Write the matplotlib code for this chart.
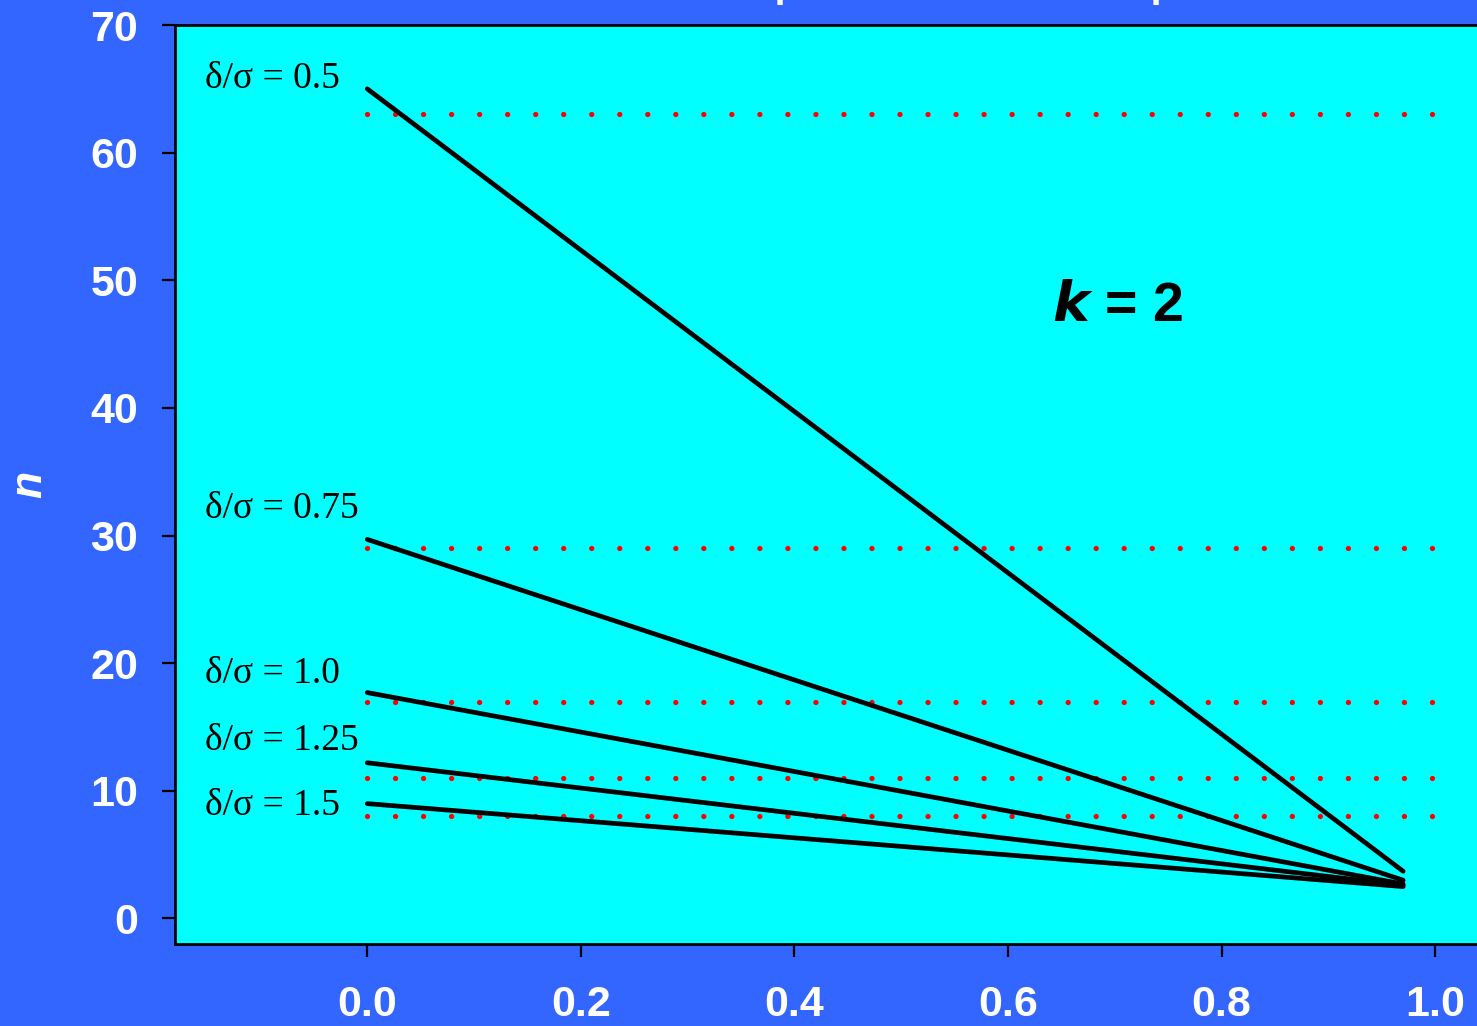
import numpy as np
import matplotlib
matplotlib.use('Agg')
import matplotlib.pyplot as plt

# sample size n against the proportion, for several effect sizes delta/sigma
ratios = ['0.5', '0.75', '1.0', '1.25', '1.5']
x_start = 0.0
x_end = 0.97
n_start = [65.0, 29.7, 17.7, 12.2, 9.0]
n_end = [3.7, 3.0, 2.7, 2.6, 2.5]
# reference levels drawn as red dotted lines
n_ref = [63, 29, 17, 11, 8]
label_y = [65.8, 32.1, 19.2, 13.9, 8.8]

x_ticks = [0.0, 0.2, 0.4, 0.6, 0.8, 1.0]
y_ticks = [0, 10, 20, 30, 40, 50, 60, 70]

fig = plt.figure(figsize=(14.77, 10.26), dpi=100, facecolor='#3366FF')
ax = fig.add_axes([0.1185, 0.0799, 0.9255, 0.8957], facecolor='#00FFFF')

for y in n_ref:
    ax.plot([0.0, 1.0], [y, y], color='red', lw=3.8,
            linestyle=(0, (0.01, 5.3)), dash_capstyle='round', zorder=2)

for a, b in zip(n_start, n_end):
    ax.plot([x_start, x_end], [a, b], color='black', lw=3.4,
            solid_capstyle='round', zorder=3)

for r, y in zip(ratios, label_y):
    ax.text(-0.152, y, '\u03b4/\u03c3 = ' + r, ha='left', va='center',
            fontsize=27, family='Liberation Serif', color='black')

ax.text(0.702, 47.9, r'$\mathbfit{k}$ = 2', ha='center', va='center',
        fontsize=40, fontweight='bold', family='Liberation Sans')

ax.set_xlim(-0.18, 1.10)
ax.set_ylim(-2, 70)
ax.set_xticks(x_ticks)
ax.set_xticklabels(['%.1f' % v for v in x_ticks])
ax.set_yticks(y_ticks)

for side in ['left', 'bottom', 'top', 'right']:
    ax.spines[side].set_linewidth(2)
    ax.spines[side].set_color('black')

ax.tick_params(axis='both', direction='out', length=9.5, width=1.6,
               colors='black', labelcolor='white', labelsize=31)
ax.tick_params(axis='x', pad=20)
ax.tick_params(axis='y', pad=17)
for lab in ax.get_xticklabels() + ax.get_yticklabels():
    lab.set_fontweight('bold')
    lab.set_family('Liberation Sans')

ax.set_ylabel('n', fontsize=32, fontweight='bold', style='italic',
              family='Liberation Sans', color='white')
ax.yaxis.set_label_coords(-0.0914, 0.5)

# title sits above the top edge, only its descenders reach into view
fig.text(0.468, 1 + 3 / 1026, 'Sample Size and the Proportion', ha='left',
         va='baseline', fontsize=28.5, fontweight='bold', color='white',
         family='Liberation Sans')

fig.savefig('out.png', dpi=100, facecolor=fig.get_facecolor())
